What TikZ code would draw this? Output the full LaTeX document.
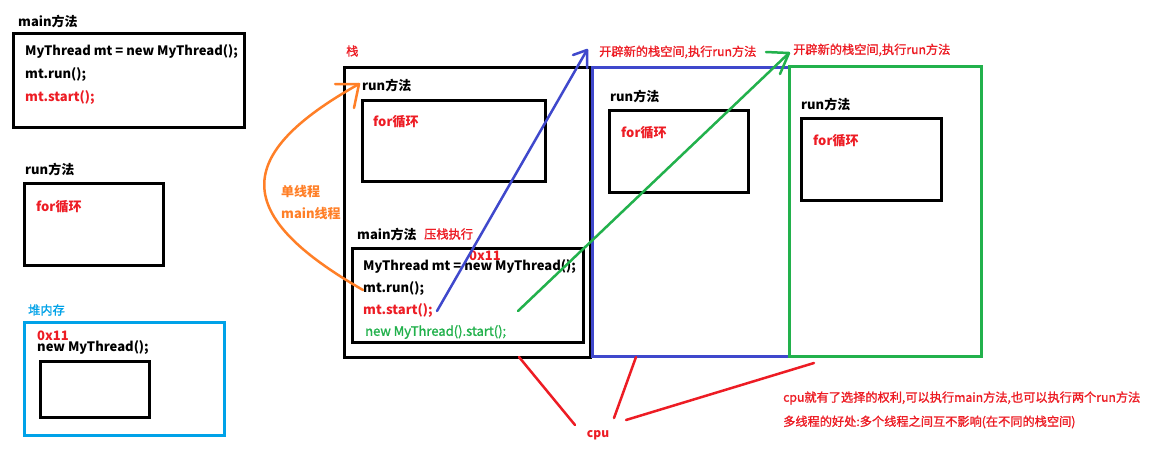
\documentclass[tikz,border=0pt]{standalone}
\usepackage{fontspec}
\setmainfont{Noto Sans CJK SC}
\newfontfamily\notefont[FakeBold=1.2]{Noto Sans CJK SC}
\definecolor{cred}{HTML}{ED1C24}
\definecolor{corange}{HTML}{FF7F27}
\definecolor{cblue}{HTML}{3F48CC}
\definecolor{cgreen}{HTML}{22B14C}
\definecolor{ccyan}{HTML}{00A2E8}
\begin{document}
\begin{tikzpicture}[x=1pt,y=-1pt,
  box/.style={draw=black,line width=3pt},
  txt/.style={anchor=west,inner sep=0pt,font=\fontsize{13}{15}\selectfont\bfseries},
  note/.style={anchor=west,inner sep=0pt,text=cred,font=\fontsize{12.2}{14}\notefont},
  link/.style={line width=2.5pt,line cap=round}]
\useasboundingbox (0,0) rectangle (1154,450);
\fill[white] (0,0) rectangle (1154,450);

% main method on the left
\node[txt] (mainlbl) at (18,21) {main方法};
\draw[box] (13,33) rectangle (244,127);
\node[txt] (l1) at (25,52) {MyThread mt = new MyThread();};
\node[txt] (l2) at (25,75) {mt.run();};
\node[txt,text=cred] (l3) at (25,98) {mt.start();};

% run method on the left
\node[txt] (runlbl) at (25,169) {run方法};
\draw[box] (24,183) rectangle (163,265);
\node[txt,text=cred] (for0) at (36,207) {for循环};

% heap
\node[note,text=ccyan] (heaplbl) at (28,310) {堆内存};
\draw[draw=ccyan,line width=3pt] (24,322) rectangle (224,435);
\node[txt,text=cred] (addr0) at (37,336) {0x11};
\node[txt] (heapobj) at (37,348) {new MyThread();};
\draw[box] (40,361) rectangle (149,417);

% main stack
\node[note] (stacklbl) at (346,51) {栈};
\draw[box] (344,67) rectangle (590,357);
\node[txt] (srun) at (362,85) {run方法};
\draw[box] (362,100) rectangle (545,181);
\node[txt,text=cred] (sfor) at (373,122) {for循环};
\node[txt] (smain) at (357,234) {main方法};
\node[note] (push) at (424,234) {压栈执行};
\draw[box] (352,248) rectangle (583,342);
\node[txt] (s1) at (363,267) {MyThread mt = new MyThread();};
\node[txt] (s2) at (363,289) {mt.run();};
\node[txt,text=cred] (s3) at (363,311) {mt.start();};
\node[txt,text=cgreen,font=\fontsize{13}{15}\notefont] (s4) at (365,332) {new MyThread().start();};
\node[txt,text=cred] (addr1) at (469,256) {0x11};

% second stack (blue)
\draw[draw=cblue,line width=3pt] (592,67) rectangle (789,356);
\node[txt] (brun) at (610,96) {run方法};
\draw[box] (609,110) rectangle (748,192);
\node[txt,text=cred] (bfor) at (621,133) {for循环};
\node[note] (bnew) at (599,52) {开辟新的栈空间,执行run方法};

% third stack (green)
\draw[draw=cgreen,line width=3pt] (789,66) rectangle (981,356);
\node[txt] (grun) at (801,104) {run方法};
\draw[box] (801,118) rectangle (941,200);
\node[txt,text=cred] (gfor) at (813,141) {for循环};
\node[note] (gnew) at (793,50) {开辟新的栈空间,执行run方法};

% single thread: mt.run() calls run method
\node[txt,text=corange] (single) at (281,192) {单线程};
\node[txt,text=corange] (mainth) at (281,214) {main线程};
\coordinate (otail) at (363,290);
\coordinate (otip) at (359,84);
\draw[link,draw=corange] (otail) .. controls (232,215) and (232,155) .. (otip);
\draw[link,draw=corange] (otip) -- ++(-24,0) (otip) -- ++(-5,24);

% mt.start() opens a new stack
\coordinate (btail) at (437,311);
\coordinate (btip) at (587,50);
\draw[link,draw=cblue] (btail) -- (btip);
\draw[link,draw=cblue] (btip) -- ++(-14,5) (btip) -- ++(0,18);

% new MyThread().start() opens another stack
\coordinate (gtail) at (518,311);
\coordinate (gtip) at (789,53);
\draw[link,draw=cgreen] (gtail) -- (gtip);
\draw[link,draw=cgreen] (gtip) -- ++(-23,-1) (gtip) -- ++(-9,21);

% cpu chooses a stack
\node[txt,text=cred,font=\fontsize{12}{14}\selectfont\bfseries,anchor=center] (cpu) at (598,435) {cpu};
\coordinate (c1) at (519,357);
\coordinate (c2) at (636,357);
\coordinate (c3) at (814,363);
\draw[link,draw=cred] (c1) -- (575,425);
\draw[link,draw=cred] (c2) -- (614,418);
\draw[link,draw=cred] (c3) -- (626,420);
\node[note] (n1) at (783,398) {cpu就有了选择的权利,可以执行main方法,也可以执行两个run方法};
\node[note] (n2) at (783,422) {多线程的好处:多个线程之间互不影响(在不同的栈空间)};
\end{tikzpicture}
\end{document}
